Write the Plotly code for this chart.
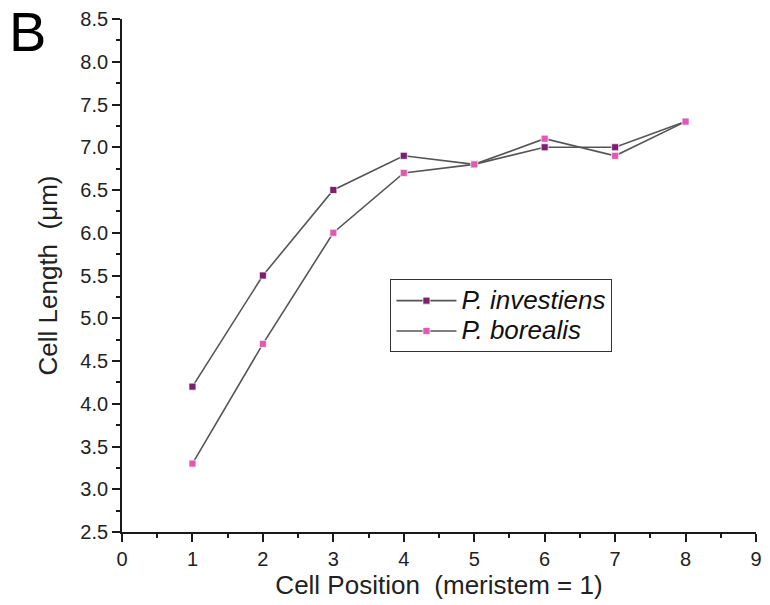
import plotly.graph_objects as go

cell_position = [1, 2, 3, 4, 5, 6, 7, 8]
investiens = [4.2, 5.5, 6.5, 6.9, 6.8, 7.0, 7.0, 7.3]
borealis = [3.3, 4.7, 6.0, 6.7, 6.8, 7.1, 6.9, 7.3]
series_names = ["P. investiens", "P. borealis"]
x_ticks = list(range(0, 10))
y_ticks = [2.5 + 0.5 * i for i in range(13)]

FONT = "Liberation Sans, Arial, sans-serif"
TXT = "#222222"
AX = "#1a1a1a"
fig = go.Figure()
for name, vals, col in [(series_names[0], investiens, "#7d1f70"),
                        (series_names[1], borealis, "#e259b0")]:
    fig.add_trace(go.Scatter(
        x=cell_position, y=vals,
        name=f"<span style='font-size:26px'><i>{name}</i></span>",
        mode="lines+markers",
        line=dict(color="#555555", width=1.6),
        marker=dict(symbol="square", size=7, color=col,
                    line=dict(color="rgba(255,255,255,0.7)", width=1)),
    ))

fig.update_layout(
    width=770, height=605,
    margin=dict(l=122, r=8, t=16, b=73),
    paper_bgcolor="white", plot_bgcolor="white",
    font=dict(family=FONT, color=TXT),
    showlegend=True,
    legend=dict(x=(393 - 122) / 640, y=(532 - 278) / 516, xanchor="left", yanchor="top",
                bordercolor="#333333", borderwidth=1, bgcolor="white",
                font=dict(size=21, family=FONT, color="#111111"),
                itemwidth=60, tracegroupgap=0),
)
fig.update_xaxes(
    range=[0, 9], tickvals=x_ticks, ticktext=[str(v) for v in x_ticks],
    showgrid=False, zeroline=False, showline=True, linecolor=AX, linewidth=1.8,
    ticks="outside", ticklen=8, tickwidth=1.8, tickcolor=AX,
    tickfont=dict(size=20, family=FONT, color=TXT), ticklabeloverflow="allow",
    minor=dict(ticks="outside", ticklen=4, tickwidth=1.5, tickcolor=AX, dtick=0.5, showgrid=False),
    title=dict(text="Cell Position  (meristem = 1)", font=dict(size=26, family=FONT, color=TXT), standoff=6),
)
fig.update_yaxes(
    range=[2.5, 8.5], tickvals=y_ticks, ticktext=[f"{v:.1f}" for v in y_ticks],
    showgrid=False, zeroline=False, showline=True, linecolor=AX, linewidth=1.8,
    ticks="outside", ticklen=8, tickwidth=1.8, tickcolor=AX,
    tickfont=dict(size=20, family=FONT, color=TXT),
    minor=dict(ticks="outside", ticklen=4, tickwidth=1.5, tickcolor=AX, dtick=0.25, showgrid=False),
    title=dict(text="Cell Length  (μm)", font=dict(size=26, family=FONT, color=TXT), standoff=15),
)
fig.add_annotation(text="B", xref="paper", yref="paper", x=-122 / 640, y=1 + 16 / 516,
                   xanchor="left", yanchor="top", showarrow=False, xshift=6, yshift=5,
                   font=dict(size=56, family=FONT, color="#000000"))
fig.write_html("out.html", config={"displayModeBar": False},
               post_script="document.body.style.margin='0';")
